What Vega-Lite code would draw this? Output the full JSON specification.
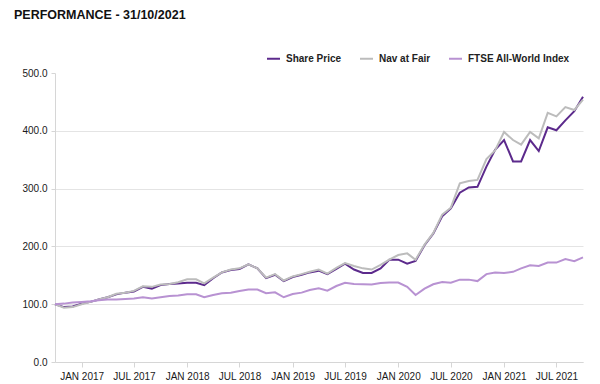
{
  "$schema": "https://vega.github.io/schema/vega-lite/v6.json",
  "width": 528,
  "height": 289,
  "autosize": {"type": "none"},
  "padding": {"left": 55, "top": 73, "right": 17, "bottom": 22},
  "background": "#ffffff",
  "title": {
    "text": "PERFORMANCE - 31/10/2021",
    "anchor": "start",
    "frame": "group",
    "font": "Liberation Sans",
    "fontSize": 12.5,
    "fontWeight": "bold",
    "color": "#111111",
    "dx": -41,
    "dy": -30,
    "offset": 0
  },
  "config": {
    "view": {"stroke": null},
    "font": "Liberation Sans"
  },
  "data": {
    "values": [
      {"date": "2016-10-01", "Share Price": 100, "Nav at Fair": 100, "FTSE All-World Index": 100},
      {"date": "2016-11-01", "Share Price": 95, "Nav at Fair": 94, "FTSE All-World Index": 101},
      {"date": "2016-12-01", "Share Price": 96, "Nav at Fair": 95, "FTSE All-World Index": 103},
      {"date": "2017-01-01", "Share Price": 101, "Nav at Fair": 100, "FTSE All-World Index": 104},
      {"date": "2017-02-01", "Share Price": 104, "Nav at Fair": 104, "FTSE All-World Index": 105},
      {"date": "2017-03-01", "Share Price": 108, "Nav at Fair": 108, "FTSE All-World Index": 107},
      {"date": "2017-04-01", "Share Price": 112, "Nav at Fair": 112, "FTSE All-World Index": 108},
      {"date": "2017-05-01", "Share Price": 117, "Nav at Fair": 118, "FTSE All-World Index": 108},
      {"date": "2017-06-01", "Share Price": 120, "Nav at Fair": 120, "FTSE All-World Index": 109},
      {"date": "2017-07-01", "Share Price": 122, "Nav at Fair": 123, "FTSE All-World Index": 110},
      {"date": "2017-08-01", "Share Price": 130, "Nav at Fair": 131, "FTSE All-World Index": 112},
      {"date": "2017-09-01", "Share Price": 127, "Nav at Fair": 130, "FTSE All-World Index": 110},
      {"date": "2017-10-01", "Share Price": 133, "Nav at Fair": 134, "FTSE All-World Index": 112},
      {"date": "2017-11-01", "Share Price": 135, "Nav at Fair": 135, "FTSE All-World Index": 114},
      {"date": "2017-12-01", "Share Price": 136, "Nav at Fair": 138, "FTSE All-World Index": 115},
      {"date": "2018-01-01", "Share Price": 137, "Nav at Fair": 143, "FTSE All-World Index": 117},
      {"date": "2018-02-01", "Share Price": 137, "Nav at Fair": 143, "FTSE All-World Index": 117},
      {"date": "2018-03-01", "Share Price": 133, "Nav at Fair": 136, "FTSE All-World Index": 112},
      {"date": "2018-04-01", "Share Price": 145, "Nav at Fair": 146, "FTSE All-World Index": 116},
      {"date": "2018-05-01", "Share Price": 155, "Nav at Fair": 155, "FTSE All-World Index": 119},
      {"date": "2018-06-01", "Share Price": 159, "Nav at Fair": 160, "FTSE All-World Index": 120},
      {"date": "2018-07-01", "Share Price": 161, "Nav at Fair": 162, "FTSE All-World Index": 123},
      {"date": "2018-08-01", "Share Price": 169, "Nav at Fair": 169, "FTSE All-World Index": 125.5},
      {"date": "2018-09-01", "Share Price": 162, "Nav at Fair": 162, "FTSE All-World Index": 125.5},
      {"date": "2018-10-01", "Share Price": 145, "Nav at Fair": 146, "FTSE All-World Index": 119},
      {"date": "2018-11-01", "Share Price": 151, "Nav at Fair": 152, "FTSE All-World Index": 120.5},
      {"date": "2018-12-01", "Share Price": 140, "Nav at Fair": 141, "FTSE All-World Index": 112},
      {"date": "2019-01-01", "Share Price": 147, "Nav at Fair": 148, "FTSE All-World Index": 117.5},
      {"date": "2019-02-01", "Share Price": 151, "Nav at Fair": 152, "FTSE All-World Index": 120},
      {"date": "2019-03-01", "Share Price": 155, "Nav at Fair": 156, "FTSE All-World Index": 124.5},
      {"date": "2019-04-01", "Share Price": 158, "Nav at Fair": 160, "FTSE All-World Index": 127.5},
      {"date": "2019-05-01", "Share Price": 152, "Nav at Fair": 153, "FTSE All-World Index": 123.5},
      {"date": "2019-06-01", "Share Price": 161, "Nav at Fair": 163, "FTSE All-World Index": 131.5},
      {"date": "2019-07-01", "Share Price": 170, "Nav at Fair": 171, "FTSE All-World Index": 137},
      {"date": "2019-08-01", "Share Price": 160, "Nav at Fair": 166, "FTSE All-World Index": 135},
      {"date": "2019-09-01", "Share Price": 154, "Nav at Fair": 162, "FTSE All-World Index": 134.5},
      {"date": "2019-10-01", "Share Price": 154, "Nav at Fair": 160, "FTSE All-World Index": 134},
      {"date": "2019-11-01", "Share Price": 162, "Nav at Fair": 168, "FTSE All-World Index": 136.5},
      {"date": "2019-12-01", "Share Price": 177, "Nav at Fair": 177, "FTSE All-World Index": 137.5},
      {"date": "2020-01-01", "Share Price": 177, "Nav at Fair": 185, "FTSE All-World Index": 137.5},
      {"date": "2020-02-01", "Share Price": 170, "Nav at Fair": 188, "FTSE All-World Index": 130},
      {"date": "2020-03-01", "Share Price": 175, "Nav at Fair": 177, "FTSE All-World Index": 116},
      {"date": "2020-04-01", "Share Price": 202, "Nav at Fair": 203, "FTSE All-World Index": 127},
      {"date": "2020-05-01", "Share Price": 222, "Nav at Fair": 223, "FTSE All-World Index": 134.5},
      {"date": "2020-06-01", "Share Price": 252, "Nav at Fair": 255, "FTSE All-World Index": 138.5},
      {"date": "2020-07-01", "Share Price": 266, "Nav at Fair": 267, "FTSE All-World Index": 137},
      {"date": "2020-08-01", "Share Price": 293, "Nav at Fair": 309, "FTSE All-World Index": 142.5},
      {"date": "2020-09-01", "Share Price": 302, "Nav at Fair": 313, "FTSE All-World Index": 142.5},
      {"date": "2020-10-01", "Share Price": 303, "Nav at Fair": 315, "FTSE All-World Index": 140},
      {"date": "2020-11-01", "Share Price": 338, "Nav at Fair": 351, "FTSE All-World Index": 152},
      {"date": "2020-12-01", "Share Price": 367, "Nav at Fair": 366, "FTSE All-World Index": 155},
      {"date": "2021-01-01", "Share Price": 384, "Nav at Fair": 398, "FTSE All-World Index": 154},
      {"date": "2021-02-01", "Share Price": 347, "Nav at Fair": 384, "FTSE All-World Index": 156},
      {"date": "2021-03-01", "Share Price": 347, "Nav at Fair": 376, "FTSE All-World Index": 162},
      {"date": "2021-04-01", "Share Price": 384, "Nav at Fair": 398, "FTSE All-World Index": 167.5},
      {"date": "2021-05-01", "Share Price": 365, "Nav at Fair": 387, "FTSE All-World Index": 166},
      {"date": "2021-06-01", "Share Price": 406, "Nav at Fair": 431, "FTSE All-World Index": 172},
      {"date": "2021-07-01", "Share Price": 401, "Nav at Fair": 425, "FTSE All-World Index": 172},
      {"date": "2021-08-01", "Share Price": 418, "Nav at Fair": 441, "FTSE All-World Index": 178},
      {"date": "2021-09-01", "Share Price": 434, "Nav at Fair": 436, "FTSE All-World Index": 174.5},
      {"date": "2021-10-01", "Share Price": 459, "Nav at Fair": 454, "FTSE All-World Index": 181}
    ]
  },
  "transform": [
    {"fold": ["Share Price", "Nav at Fair", "FTSE All-World Index"], "as": ["series", "value"]}
  ],
  "mark": {"type": "line", "interpolate": "linear"},
  "encoding": {
    "x": {
      "field": "date",
      "type": "temporal",
      "scale": {"type": "utc", "nice": false},
      "axis": {
        "title": null,
        "values": [
          {"year": 2017, "month": 1, "date": 1, "utc": true},
          {"year": 2017, "month": 7, "date": 1, "utc": true},
          {"year": 2018, "month": 1, "date": 1, "utc": true},
          {"year": 2018, "month": 7, "date": 1, "utc": true},
          {"year": 2019, "month": 1, "date": 1, "utc": true},
          {"year": 2019, "month": 7, "date": 1, "utc": true},
          {"year": 2020, "month": 1, "date": 1, "utc": true},
          {"year": 2020, "month": 7, "date": 1, "utc": true},
          {"year": 2021, "month": 1, "date": 1, "utc": true},
          {"year": 2021, "month": 7, "date": 1, "utc": true}
        ],
        "labelExpr": "upper(utcFormat(datum.value, '%b %Y'))",
        "grid": false,
        "domainColor": "#d6d6d6",
        "domainWidth": 1,
        "tickColor": "#d6d6d6",
        "tickSize": 5,
        "labelFont": "Liberation Sans",
        "labelFontSize": 10,
        "labelColor": "#1a1a1a",
        "labelPadding": 4,
        "labelFlush": false,
        "labelOverlap": false
      }
    },
    "y": {
      "field": "value",
      "type": "quantitative",
      "scale": {"domain": [0, 500], "nice": false, "zero": true},
      "axis": {
        "title": null,
        "values": [0, 100, 200, 300, 400, 500],
        "format": ".1f",
        "grid": true,
        "gridColor": "#e4e4e4",
        "gridWidth": 1,
        "gridOpacity": {"condition": {"test": "datum.value >= 500", "value": 0}, "value": 1},
        "domainColor": "#d6d6d6",
        "tickColor": "#d6d6d6",
        "tickSize": 4,
        "labelFont": "Liberation Sans",
        "labelFontSize": 10,
        "labelColor": "#1a1a1a",
        "labelPadding": 4
      }
    },
    "strokeWidth": {
      "field": "series",
      "type": "nominal",
      "scale": {
        "domain": ["Share Price", "Nav at Fair", "FTSE All-World Index"],
        "range": [2, 2, 1.6]
      },
      "legend": null
    },
    "color": {
      "field": "series",
      "type": "nominal",
      "scale": {
        "domain": ["Share Price", "Nav at Fair", "FTSE All-World Index"],
        "range": ["#5c2a8c", "#bcbcbc", "#b892d2"]
      },
      "legend": {
        "title": null,
        "orient": "none",
        "legendX": 211,
        "legendY": -22,
        "direction": "horizontal",
        "symbolType": "stroke",
        "symbolSize": 169,
        "symbolStrokeWidth": 2,
        "labelFont": "Liberation Sans",
        "labelFontSize": 10,
        "labelFontWeight": "bold",
        "labelColor": "#222222",
        "labelOffset": 5,
        "columnPadding": 14,
        "padding": 0
      }
    }
  }
}
